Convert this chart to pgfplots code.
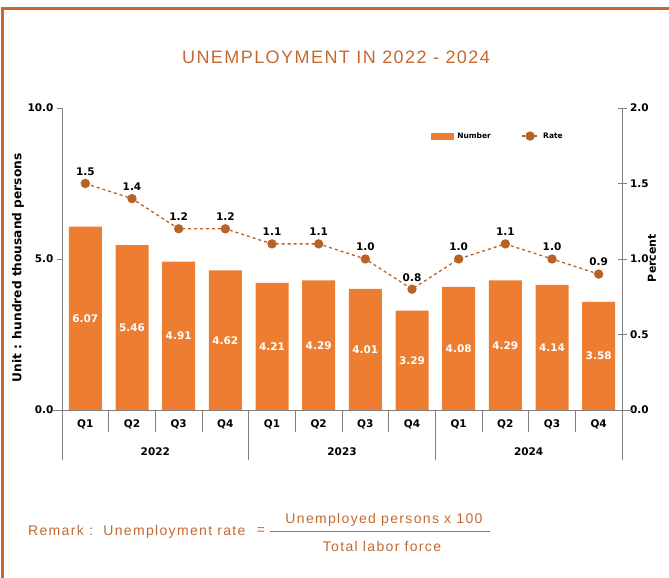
\documentclass[border=0pt]{standalone}
\usepackage{pgfplots}
\usepackage{pgfplotstable}
\pgfplotsset{compat=1.18}
\usetikzlibrary{calc}
\usepackage{fontspec}
\setmainfont{DejaVu Sans}
\newfontfamily\ls{Liberation Sans}[LetterSpace=8]
\newfontfamily\lsr{Liberation Sans}[LetterSpace=9.5]
\definecolor{barc}{RGB}{237,125,49}
\definecolor{linec}{RGB}{184,98,40}
\definecolor{framec}{RGB}{196,106,48}
\definecolor{titlec}{RGB}{196,104,50}
\definecolor{axc}{RGB}{128,128,128}

\pgfplotstableread{
x n r rs
0 6.07 1.5 1.5
1 5.46 1.4 1.4
2 4.91 1.2 1.2
3 4.62 1.2 1.2
4 4.21 1.1 1.1
5 4.29 1.1 1.1
6 4.01 1.0 1.0
7 3.29 0.8 0.8
8 4.08 1.0 1.0
9 4.29 1.1 1.1
10 4.14 1.0 1.0
11 3.58 0.9 0.9
}\data

\begin{document}
\begin{tikzpicture}[x=1pt,y=1pt]
\useasboundingbox (0,0) rectangle (669,578);
\draw[framec, line width=3pt] (2.5,0) -- (2.5,569) -- (669,569);
\node[titlec, font=\ls\fontsize{18}{22}\selectfont] at (336,521) {UNEMPLOYMENT IN 2022 - 2024};

\begin{axis}[
  at={(62pt,168pt)}, anchor=south west, scale only axis,
  width=560pt, height=302pt,
  xmin=-0.5, xmax=11.5, ymin=0, ymax=10,
  axis y line*=left, axis x line=none,
  ytick={0,5,10},
  yticklabel style={font=\bfseries\fontsize{10.5}{12}\selectfont, /pgf/number format/.cd, fixed, fixed zerofill, precision=1},
  /pgf/number format/assume math mode=true,
  tick align=outside, major tick length=5pt,
  every tick/.style={axc, line width=0.8pt},
  axis line style={axc, line width=0.8pt},
  clip=false,
]
\addplot[ybar, bar width=33pt, fill=barc, draw=none] table[x=x,y=n]{\data};
\addplot[draw=none, nodes near coords, point meta=explicit symbolic,
  every node near coord/.append style={anchor=center, white, font=\bfseries\fontsize{10.5}{12}\selectfont}]
  table[x=x, y expr=\thisrow{n}/2, meta=n]{\data};
\end{axis}

\begin{axis}[
  at={(62pt,168pt)}, anchor=south west, scale only axis,
  width=560pt, height=302pt,
  xmin=-0.5, xmax=11.5, ymin=0, ymax=2,
  axis y line*=right, axis x line=none,
  ytick={0,0.5,1,1.5,2},
  yticklabel style={font=\bfseries\fontsize{10.5}{12}\selectfont, /pgf/number format/.cd, fixed, fixed zerofill, precision=1},
  /pgf/number format/assume math mode=true,
  tick align=center, major tick length=9pt,
  every tick/.style={axc, line width=0.8pt},
  axis line style={axc, line width=0.8pt},
  clip=false,
  legend style={draw=none, fill=none, at={(0.653,0.907)}, anchor=west,
    font=\bfseries\fontsize{7.5}{9}\selectfont, column sep=2pt,
    /tikz/every even column/.append style={column sep=28pt}},
  legend columns=2,
  legend cell align=left,
]
\addlegendimage{legend image code/.code={\fill[barc] (0pt,-3pt) rectangle (22pt,3pt);}}
\addlegendentry{Number}
\addplot[linec, dashed, line width=1.3pt, mark=*, mark size=4pt,
  mark options={solid, fill=linec},
  nodes near coords, point meta=explicit symbolic,
  every node near coord/.append style={anchor=south, black, yshift=4pt, font=\bfseries\fontsize{10.5}{12}\selectfont}]
  table[x=x,y=r,meta=rs]{\data};
\addlegendentry{Rate}
\end{axis}

% axis base and separators (axis box: x 62..622, y 168..470)
\draw[axc, line width=0.8pt] (52,168) -- (632,168);
\foreach \i in {0,4,8,12} {\draw[axc, line width=0.8pt] ({62+\i*560/12},168) -- ++(0,-50);}
\foreach \i in {1,2,3,5,6,7,9,10,11} {\draw[axc, line width=0.8pt] ({62+\i*560/12},168) -- ++(0,-22);}
\foreach \i/\q in {0/Q1,1/Q2,2/Q3,3/Q4,4/Q1,5/Q2,6/Q3,7/Q4,8/Q1,9/Q2,10/Q3,11/Q4} {
  \node[font=\bfseries\fontsize{10.5}{12}\selectfont] at ({62+(\i+0.5)*560/12},154) {\q};}
\foreach \c/\y in {2/2022,6/2023,10/2024} {
  \node[font=\bfseries\fontsize{10.5}{12}\selectfont] at ({62+\c*560/12},126) {\y};}

\node[rotate=90, font=\bfseries\fontsize{12.2}{14}\selectfont] at (18,310) {Unit : hundred thousand persons};
\node[rotate=90, font=\bfseries\fontsize{11}{13}\selectfont] at (652,320) {Percent};

\node[anchor=west, titlec, font=\lsr\fontsize{14}{16}\selectfont, inner sep=0pt] at (28,46) {Remark :\ \ Unemployment rate};
\node[titlec, font=\ls\fontsize{14}{16}\selectfont, inner sep=0pt] at (261,47) {=};
\draw[titlec, line width=1pt] (270,46) -- (490,46);
\node[titlec, font=\lsr\fontsize{14}{16}\selectfont] at (384,58) {Unemployed persons x 100};
\node[titlec, font=\lsr\fontsize{14}{16}\selectfont] at (382,32) {Total labor force};
\end{tikzpicture}
\end{document}
